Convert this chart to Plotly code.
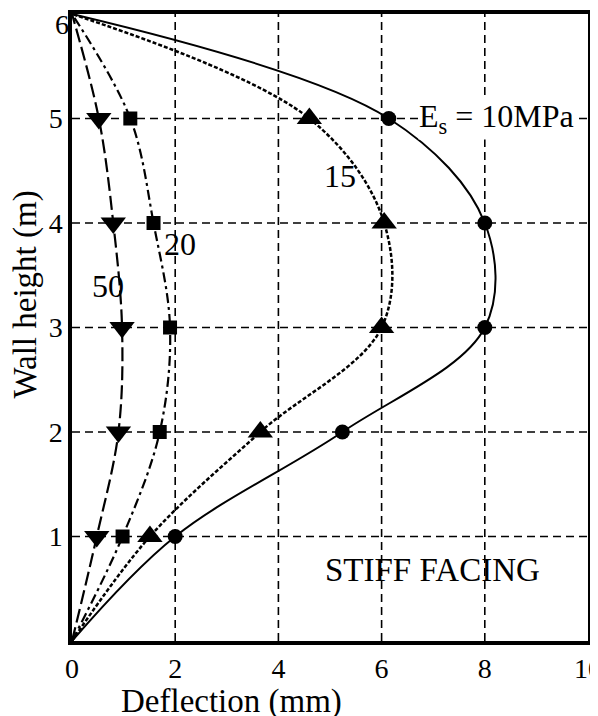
import plotly.graph_objects as go

heights = [0, 1, 2, 3, 4, 5, 6]
defl_10 = [0, 2.0, 5.24, 8.0, 8.0, 6.14, 0]
defl_15 = [0, 1.51, 3.65, 6.0, 6.05, 4.6, 0]
defl_20 = [0, 0.98, 1.7, 1.9, 1.58, 1.13, 0]
defl_50 = [0, 0.48, 0.9, 0.97, 0.8, 0.52, 0]

x_ticks = [0, 2, 4, 6, 8, 10]
y_ticks = [1, 2, 3, 4, 5, 6]

FONT = "Liberation Serif"
fig = go.Figure()

series = [
    (defl_10, "solid", 2, "circle", 15),
    (defl_15, "4px,2px", 2.5, "triangle-up", 22),
    (defl_20, "10px,4px,3px,4px", 2.2, "square", 14),
    (defl_50, "14px,5px", 2.2, "triangle-down", 22),
]
for xs, dash, lw, sym, ms in series:
    fig.add_trace(go.Scatter(
        x=xs, y=heights, mode="lines",
        line=dict(color="black", width=lw, dash=dash, shape="spline", smoothing=1.0),
        showlegend=False, hoverinfo="skip"))
    fig.add_trace(go.Scatter(
        x=xs[1:-1], y=heights[1:-1], mode="markers",
        marker=dict(symbol=sym, size=ms, color="black"),
        showlegend=False, hoverinfo="skip"))

grid_dash = dict(color="black", width=1.6, dash="8px,5px")
for gx in [2, 4, 6, 8]:
    fig.add_shape(type="line", x0=gx, x1=gx, y0=0, y1=6, xref="x", yref="y",
                  line=grid_dash, layer="below")
for gy in [1, 2, 3, 4, 5]:
    fig.add_shape(type="line", x0=0, x1=10, y0=gy, y1=gy, xref="x", yref="y",
                  line=grid_dash, layer="below")

lbl = dict(family=FONT, size=32, color="black")
fig.add_annotation(x=6.7, y=5, text="E<sub>s</sub> = 10MPa", showarrow=False,
                   xanchor="left", yanchor="middle", bgcolor="white", borderpad=0,
                   font=lbl)
fig.add_annotation(x=5.2, y=4.45, text="15", showarrow=False, font=lbl)
fig.add_annotation(x=2.1, y=3.8, text="20", showarrow=False, font=lbl)
fig.add_annotation(x=0.7, y=3.4, text="50", showarrow=False, font=lbl)
fig.add_annotation(x=6.98, y=0.68, text="STIFF FACING", showarrow=False,
                   font=dict(family=FONT, size=33, color="black"))

# top y tick label sits just below the frame, as in the reference
fig.add_annotation(x=0, y=y_ticks[-1], xref="paper", yref="y", text=str(y_ticks[-1]),
                   xanchor="right", yanchor="middle", yshift=-10, xshift=-1,
                   showarrow=False, font=dict(family=FONT, size=28, color="black"))

fig.add_annotation(x=0.31, y=-0.097, xref="paper", yref="paper", text="Deflection (mm)",
                   xanchor="center", yanchor="middle",
                   showarrow=False, font=dict(family=FONT, size=33, color="black"))
fig.add_annotation(x=-0.09, y=0.552, xref="paper", yref="paper", text="Wall height (m)",
                   xanchor="center", yanchor="middle",
                   textangle=-90, showarrow=False, font=dict(family=FONT, size=33, color="black"))

fig.update_layout(
    width=590, height=708,
    margin=dict(l=64, r=10, t=6, b=75, autoexpand=False),
    paper_bgcolor="white", plot_bgcolor="white",
    font=dict(family=FONT, color="black"),
)
fig.update_xaxes(range=[0, 10], tickvals=x_ticks, ticks="", showgrid=False, zeroline=False,
                 showline=True, linecolor="black", linewidth=3.5, mirror=True,
                 automargin=False, ticklabeloverflow="allow", ticklabelstandoff=0,
                 tickfont=dict(family=FONT, size=28, color="black"))
fig.update_yaxes(range=[0, 6], tickvals=y_ticks[:-1], ticks="", showgrid=False, zeroline=False,
                 showline=True, linecolor="black", linewidth=3.5, mirror=True,
                 automargin=False, ticklabeloverflow="allow", ticklabelstandoff=0,
                 tickfont=dict(family=FONT, size=28, color="black"))

fig.write_html("out.html")
